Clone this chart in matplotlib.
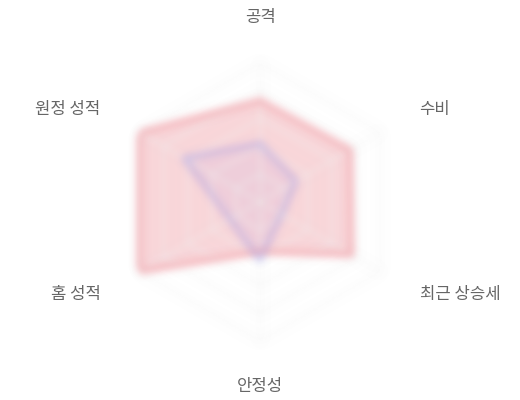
import numpy as np
import matplotlib
matplotlib.use('Agg')
import matplotlib.pyplot as plt

plt.rcParams['font.family'] = ['Noto Sans CJK KR', 'DejaVu Sans']

# ── data ────────────────────────────────────────────────────────────────
categories = ['공격', '수비', '최근 상승세', '안정성', '홈 성적', '원정 성적']
team_a = [73, 75, 76, 36, 100, 100]     # red series
team_b = [42, 30, 18, 42, 25, 63]       # blue series
grid_levels = [20, 40, 60, 80, 100]

RED = (232 / 255, 84 / 255, 98 / 255)
BLUE = (120 / 255, 120 / 255, 235 / 255)
TEXT = '#666666'


# ── blur filter (chart is rendered blurred in the reference) ────────────
def make_blur(sigma_px):
    def _blur(img, dpi):
        sigma = sigma_px * dpi / 100.0
        r = int(3 * sigma) + 1
        pad = r
        img = np.pad(img, ((pad, pad), (pad, pad), (0, 0)))
        a = img[..., 3:4]
        pm = np.concatenate([img[..., :3] * a, a], axis=2)
        x = np.arange(-r, r + 1)
        w = np.exp(-0.5 * (x / sigma) ** 2)
        w /= w.sum()
        out = np.zeros_like(pm)
        for k, wk in zip(x, w):
            out += wk * np.roll(pm, k, axis=0)
        pm = out
        out = np.zeros_like(pm)
        for k, wk in zip(x, w):
            out += wk * np.roll(pm, k, axis=1)
        alpha = out[..., 3:4]
        rgb = np.where(alpha > 1e-6, out[..., :3] / np.maximum(alpha, 1e-6), 0)
        res = np.concatenate([rgb, alpha], axis=2)
        return np.clip(res, 0, 1), -pad, -pad
    return _blur


blur = make_blur(4.0)

# ── figure ──────────────────────────────────────────────────────────────
W, H = 520, 400
cx, cy, R = 260, 202, 139
fig = plt.figure(figsize=(W / 100, H / 100), dpi=100)
ax = fig.add_axes([(cx - R) / W, (H - cy - R) / H, 2 * R / W, 2 * R / H],
                  projection='polar')
ax.set_theta_offset(np.pi / 2)
ax.set_theta_direction(-1)
ax.set_ylim(0, 100)
ax.set_xticks([])
ax.set_yticks([])
ax.grid(False)
ax.spines['polar'].set_visible(False)
ax.patch.set_alpha(0)

n = len(categories)
theta = np.linspace(0, 2 * np.pi, n, endpoint=False)
theta_c = np.append(theta, theta[0])

# hexagonal grid + spokes (very faint in the reference)
for lv in grid_levels:
    ln, = ax.plot(theta_c, [lv] * (n + 1), color='#f0f0f0', lw=1)
    ln.set_agg_filter(blur)
for t in theta:
    ln, = ax.plot([t, t], [0, 100], color='#f0f0f0', lw=1)
    ln.set_agg_filter(blur)

# series
for vals, col, fa, la in [(team_a, RED, 0.24, 0.38), (team_b, BLUE, 0.08, 0.28)]:
    v = np.append(vals, vals[0])
    poly, = ax.fill(theta_c, v, color=col, alpha=fa, lw=0)
    poly.set_agg_filter(blur)
    ln, = ax.plot(theta_c, v, color=col, lw=4, alpha=la)
    ln.set_agg_filter(blur)

# point labels
for t, lab in zip(theta, categories):
    s = np.sin(t)
    if abs(s) < 1e-6:
        ha = 'center'
    elif s > 0:
        ha = 'left'
    else:
        ha = 'right'
    ax.text(t, 132.5, lab, ha=ha, va='center', fontsize=12, color=TEXT,
            clip_on=False)

fig.savefig('out.png', dpi=100)
